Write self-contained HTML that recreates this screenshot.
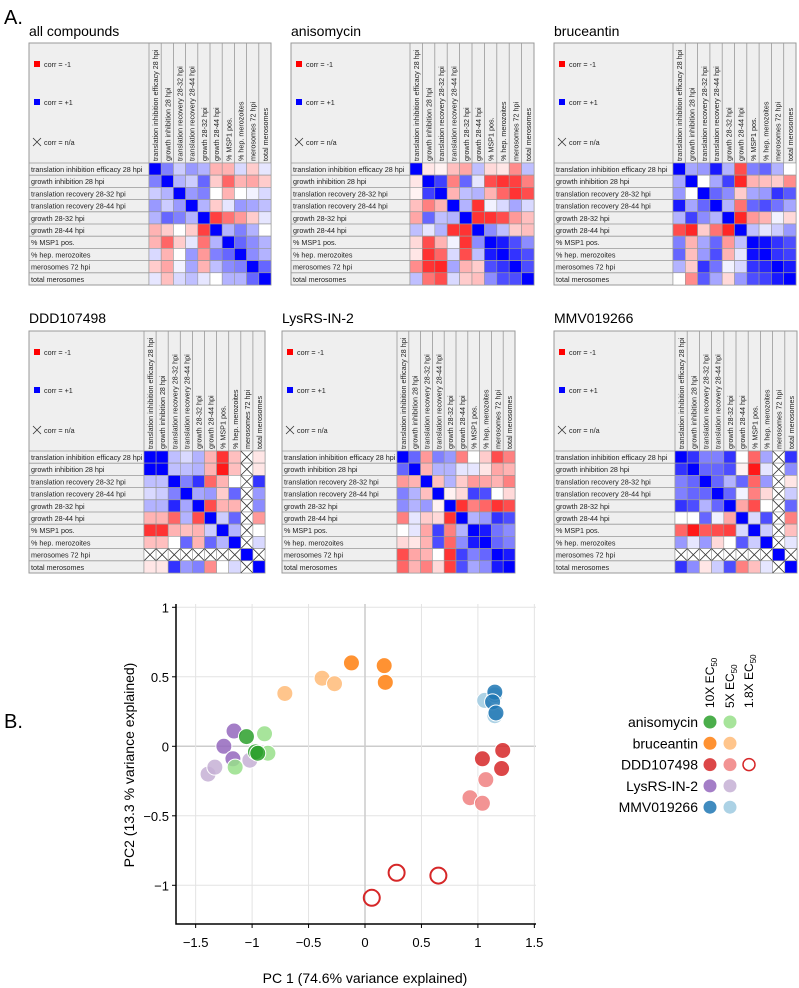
<!DOCTYPE html>
<html><head><meta charset="utf-8">
<style>
body{margin:0;background:#fff;}
svg{display:block;font-family:"Liberation Sans",sans-serif;}
.sm{font-size:7.2px;fill:#222;}
</style></head>
<body>
<svg id="fig" width="799" height="988" viewBox="0 0 799 988" xmlns="http://www.w3.org/2000/svg">
<text x="4" y="24" font-size="20">A.</text>
<text x="4" y="728" font-size="20">B.</text>
<g id="heat"></g>
<g id="scatter"></g>
</svg>
<script>
const vars = ["translation inhibition efficacy 28 hpi","growth inhibition 28 hpi","translation recovery 28-32 hpi","translation recovery 28-44 hpi","growth 28-32 hpi","growth 28-44 hpi","% MSP1 pos.","% hep. merozoites","merosomes 72 hpi","total merosomes"];
const titles = ["all compounds","anisomycin","bruceantin","DDD107498","LysRS-IN-2","MMV019266"];
const n = null;
const mAll = [
[1,.5,.2,.4,.3,-.3,-.3,.15,-.2,.1],
[.5,1,.3,.2,.6,-.2,-.6,-.3,-.35,-.2],
[.2,.3,1,.4,.5,0,-.3,0,.05,.15],
[.4,.2,.4,1,.3,-.2,.1,.4,.35,.25],
[.3,.6,.5,.3,1,-.75,-.55,-.4,-.2,.1],
[-.3,-.2,0,-.2,-.75,1,.3,.5,.3,0],
[-.3,-.6,-.2,.1,-.55,.3,1,.6,.45,.3],
[.15,-.3,0,.4,-.4,.5,.6,1,.45,.3],
[-.2,-.35,.05,.35,-.3,.25,.45,.5,1,.6],
[.1,-.25,.15,.25,.1,0,.3,.3,.6,1]];
const mAniso = [
[1,-.1,-.05,-.25,-.35,.25,-.15,-.1,-.45,.25],
[-.1,1,.75,-.5,.6,.1,-.7,-.8,-.75,-.5],
[-.05,.75,1,-.3,.25,.3,-.3,-.6,-.8,-.7],
[-.25,-.5,-.3,1,.3,-.8,.05,.15,.35,.15],
[-.35,.6,.25,.3,1,-.8,-.8,-.7,-.4,-.25],
[.25,.1,.3,-.8,-.8,1,.45,.25,-.2,-.25],
[-.15,-.7,-.3,.05,-.8,.45,1,.9,.7,.45],
[-.1,-.8,-.6,.15,-.7,.25,.9,1,.8,.7],
[-.45,-.8,-.85,.35,-.3,-.2,.7,.8,1,.7],
[.25,-.55,-.7,.15,-.2,-.25,.45,.7,.7,1]];
const mBruce = [
[1,.35,.4,.9,.3,-.7,.5,.6,.3,0],
[.35,1,0,.35,.75,-.85,-.3,-.25,-.2,-.45],
[.4,0,1,.6,.45,-.2,.35,.4,.8,.65],
[.9,.35,.6,1,.3,-.55,.6,.7,.55,.35],
[.3,.75,.45,.3,1,-.85,-.4,-.3,.05,-.15],
[-.7,-.85,-.2,-.55,-.85,1,.25,.1,.2,.4],
[.5,-.3,.35,.6,-.4,.25,1,.95,.8,.7],
[.6,-.25,.4,.7,-.3,.1,.95,1,.8,.75],
[.3,-.2,.8,.55,.05,.15,.8,.85,1,.9],
[0,-.45,.65,.35,-.15,.4,.7,.75,.9,1]];
const mDDD = [
[1,1,.25,.15,.3,-.3,-.8,-.25,n,-.1],
[1,1,.25,.25,.3,-.3,-.9,-.25,n,-.1],
[.25,.25,1,.5,.8,-.6,-.3,0,n,.8],
[.15,.2,.5,1,.35,.4,-.2,.6,n,.4],
[.3,.3,.85,.35,1,-.7,-.3,-.3,n,.45],
[-.3,-.3,-.6,.3,-.7,1,.2,.6,n,-.4],
[-.8,-.8,-.3,-.25,-.3,.2,1,.3,n,0],
[-.25,-.25,0,.6,-.3,.6,.3,1,n,.15],
[n,n,n,n,n,n,n,n,1,n],
[-.1,-.1,.8,.4,.5,-.45,0,.15,n,1]];
const mLys = [
[1,.6,-.4,.5,.4,-.5,0,-.2,-.7,-.5],
[.6,1,-.3,.3,.3,.1,.1,-.1,-.35,-.3],
[-.4,-.3,1,-.25,.3,-.2,-.4,-.35,-.3,-.5],
[.5,.3,-.25,1,-.05,-.15,.75,.7,0,-.15],
[.45,.3,.4,-.05,1,-.8,-.5,-.6,-.8,-.7],
[-.5,.1,-.2,-.15,-.8,1,.3,.4,.8,.7],
[0,.1,-.35,.75,-.5,.3,1,.9,.55,.45],
[-.15,-.1,-.3,.7,-.6,.45,.9,1,.6,.5],
[-.7,-.35,-.3,0,-.8,.75,.5,.6,1,.9],
[-.6,-.3,-.5,-.15,-.75,.7,.35,.45,.9,1]];
const mMMV = [
[1,.8,.5,.5,.8,0,-.6,.35,n,.8],
[.8,1,.6,.6,.7,-.05,-.9,.1,n,.45],
[.5,.6,1,.6,.3,.6,-.6,.4,n,-.1],
[.5,.6,.6,1,.6,.05,-.5,-.15,n,.2],
[.8,.7,.3,.6,1,-.35,-.7,0,n,.6],
[0,0,.6,.05,-.35,1,.15,.7,n,-.5],
[-.6,-.9,-.65,-.7,-.75,.15,1,.2,n,-.25],
[.4,.1,.4,-.15,0,.65,.2,1,n,.1],
[n,n,n,n,n,n,n,n,1,n],
[.8,.45,-.1,.2,.7,-.5,-.25,.1,n,1]];
const mats = [mAll,mAniso,mBruce,mDDD,mLys,mMMV];

const groups = ["anisomycin","bruceantin","DDD107498","LysRS-IN-2","MMV019266"];
const xTicks = [-1.5,-1,-0.5,0,0.5,1,1.5];
const yTicks = [1,0.5,0,-0.5,-1];
const ptsLysLight = [[-1.39,-.2],[-1.33,-.15],[-1.02,-.10]];
const ptsLysDark = [[-1.16,.11],[-1.25,0],[-1.17,-.09]];
const ptsAnisoLight = [[-.89,.09],[-.86,-.05],[-1.15,-.15]];
const ptsAnisoDark = [[-1.05,.07],[-.97,-.04],[-.95,-.05]];
const ptsBruceLight = [[-.71,.38],[-.38,.49],[-.27,.45]];
const ptsBruceDark = [[-.12,.60],[.17,.58],[.18,.46]];
const ptsMMVLight = [[1.06,.33],[1.15,.37],[1.15,.22]];
const ptsMMVDark = [[1.15,.39],[1.13,.32],[1.16,.24]];
const ptsDDDLight = [[1.07,-.24],[.93,-.37],[1.04,-.41]];
const ptsDDDDark = [[1.22,-.03],[1.04,-.09],[1.21,-.16]];
const ptsDDDOpen = [[.06,-1.09],[.28,-.91],[.65,-.93]];

const NS="http://www.w3.org/2000/svg";
function mk(tag,attrs,parent,txt){const e=document.createElementNS(NS,tag);for(const k in attrs)e.setAttribute(k,attrs[k]);if(txt!=null)e.textContent=txt;parent.appendChild(e);return e;}
function col(v){if(v==null)return "#fff";if(v>=0){const c=Math.round(255*(1-v));return `rgb(${c},${c},255)`;}const c=Math.round(255*(1+v));return `rgb(255,${c},${c})`;}

const panels=[{lx:29,cx:149,cr:271,top:43,ty:36},{lx:291,cx:410,cr:534,top:43,ty:36},{lx:554,cx:673,cr:796,top:43,ty:36},
{lx:29,cx:144,cr:265,top:331,ty:323},{lx:282,cx:397,cr:515,top:331,ty:323},{lx:554,cx:675,cr:797,top:331,ty:323}];
const heat=document.getElementById('heat');
panels.forEach((p,pi)=>{
  const g=mk('g',{},heat);
  
  
  const t=mk('text',{x:p.lx,y:p.ty,'font-size':14},g,titles[pi]);
  
  
  const H=120, rh=12.2, cw=(p.cr-p.cx)/10, bottom=p.top+H+10*rh;
  mk('rect',{x:p.lx,y:p.top,width:p.cr-p.lx,height:bottom-p.top,fill:'#efefef',stroke:'#999','stroke-width':1},g);
  mk('rect',{x:p.lx+5,y:p.top+18,width:6,height:6,fill:'#f00'},g);
  mk('text',{x:p.lx+15,y:p.top+24,class:'sm'},g,'corr = -1');
  mk('rect',{x:p.lx+5,y:p.top+56,width:6,height:6,fill:'#00f'},g);
  mk('text',{x:p.lx+15,y:p.top+62,class:'sm'},g,'corr = +1');
  mk('path',{d:`M${p.lx+4} ${p.top+95}l8 8M${p.lx+12} ${p.top+95}l-8 8`,stroke:'#333','stroke-width':0.8,fill:'none'},g);
  mk('text',{x:p.lx+15,y:p.top+102,class:'sm'},g,'corr = n/a');
  for(let j=0;j<10;j++){
    const x=p.cx+j*cw;
    mk('line',{x1:x,y1:p.top,x2:x,y2:bottom,stroke:'#999','stroke-width':0.8},g);
    const tx=mk('text',{x:0,y:0,class:'sm',transform:`translate(${x+cw/2+3},${p.top+H-2}) rotate(-90)`},g,vars[j]);
    
    
  }
  const m=mats[pi];
  for(let i=0;i<10;i++){
    const y=p.top+H+i*rh;
    mk('line',{x1:p.lx,y1:y,x2:p.cr,y2:y,stroke:'#999','stroke-width':0.8},g);
    const rl=mk('text',{x:p.lx+2,y:y+9,class:'sm'},g,vars[i]);
    
    
    for(let j=0;j<10;j++){
      const x=p.cx+j*cw, v=m[i][j];
      const c=mk('rect',{x:x,y:y,width:cw,height:rh,fill:col(v),stroke:'#999','stroke-width':0.6},g);
      
      
      if(v==null) mk('path',{d:`M${x} ${y}L${x+cw} ${y+rh}M${x+cw} ${y}L${x} ${y+rh}`,stroke:'#333','stroke-width':0.8},g);
    }
  }
});

const sc=document.getElementById('scatter');
const X=v=>365+v*112.9, Y=v=>746.3-v*139;
const L=176,R=536,T=604,B=924;
yTicks.forEach(v=>{mk('line',{x1:L,y1:Y(v),x2:R,y2:Y(v),stroke:v===0?'#ccc':'#e3e3e3','stroke-width':v===0?1.5:1},sc);
  mk('line',{x1:L-4,y1:Y(v),x2:L,y2:Y(v),stroke:'#000'},sc);
  const t=mk('text',{x:L-7,y:Y(v)+5,'font-size':13,'text-anchor':'end'},sc,String(v).replace('-','\u2212'));
  });
xTicks.forEach(v=>{mk('line',{x1:X(v),y1:T,x2:X(v),y2:B,stroke:v===0?'#ccc':'#e3e3e3','stroke-width':v===0?1.5:1},sc);
  mk('line',{x1:X(v),y1:B,x2:X(v),y2:B+4,stroke:'#000'},sc);
  const t=mk('text',{x:X(v),y:B+23,'font-size':13,'text-anchor':'middle'},sc,String(v).replace('-','\u2212'));
  });
mk('path',{d:`M${L} ${T}V${B}H${R}`,stroke:'#000','stroke-width':1.5,fill:'none'},sc);
const xl=mk('text',{x:365,y:983,'font-size':14,'text-anchor':'middle'},sc,'PC 1 (74.6% variance explained)');

const yl=mk('text',{x:0,y:0,'font-size':14,'text-anchor':'middle',transform:'translate(134,765) rotate(-90)'},sc,'PC2 (13.3 % variance explained)');

const series=[[ptsLysLight,'#c5b0d5'],[ptsLysDark,'#9467bd'],[ptsAnisoLight,'#98df8a'],[ptsAnisoDark,'#2ca02c'],
[ptsBruceLight,'#ffbb78'],[ptsBruceDark,'#ff7f0e'],[ptsMMVLight,'#9ecae1'],[ptsMMVDark,'#1f77b4'],[ptsDDDLight,'#f08080'],[ptsDDDDark,'#d62728']];
series.forEach(([pts,c])=>pts.forEach(([a,b])=>{
  const e=mk('circle',{cx:X(a),cy:Y(b),r:8,fill:c,'fill-opacity':0.85,stroke:'#fff','stroke-width':1},sc);
  }));
ptsDDDOpen.forEach(([a,b])=>{
  const e=mk('circle',{cx:X(a),cy:Y(b),r:8,fill:'none',stroke:'#d62728','stroke-width':2},sc);
  });
const lg=mk('g',{},sc);

const lc=[['#2ca02c','#98df8a'],['#ff7f0e','#ffbb78'],['#d62728','#f08080'],['#9467bd','#c5b0d5'],['#1f77b4','#9ecae1']];
groups.forEach((gname,i)=>{const y=722+i*21.3;
  const t=mk('text',{x:698,y:y+5,'font-size':14,'text-anchor':'end'},lg,gname);
  
  mk('circle',{cx:710,cy:y,r:6.5,fill:lc[i][0],'fill-opacity':0.85},lg);
  mk('circle',{cx:730,cy:y,r:6.5,fill:lc[i][1],'fill-opacity':0.85},lg);
  if(i===2)mk('circle',{cx:749,cy:y,r:6,fill:'none',stroke:'#d62728','stroke-width':1.5},lg);
});
[['10X EC','710'],['5X EC','730'],['1.8X EC','749']].forEach(([s,x])=>{
  const t=mk('text',{x:0,y:0,'font-size':12,transform:`translate(${+x+4},708) rotate(-90)`},lg);
  
  mk('tspan',{},t,s);mk('tspan',{'font-size':8,dy:3},t,'50');
});
</script>
</body></html>
